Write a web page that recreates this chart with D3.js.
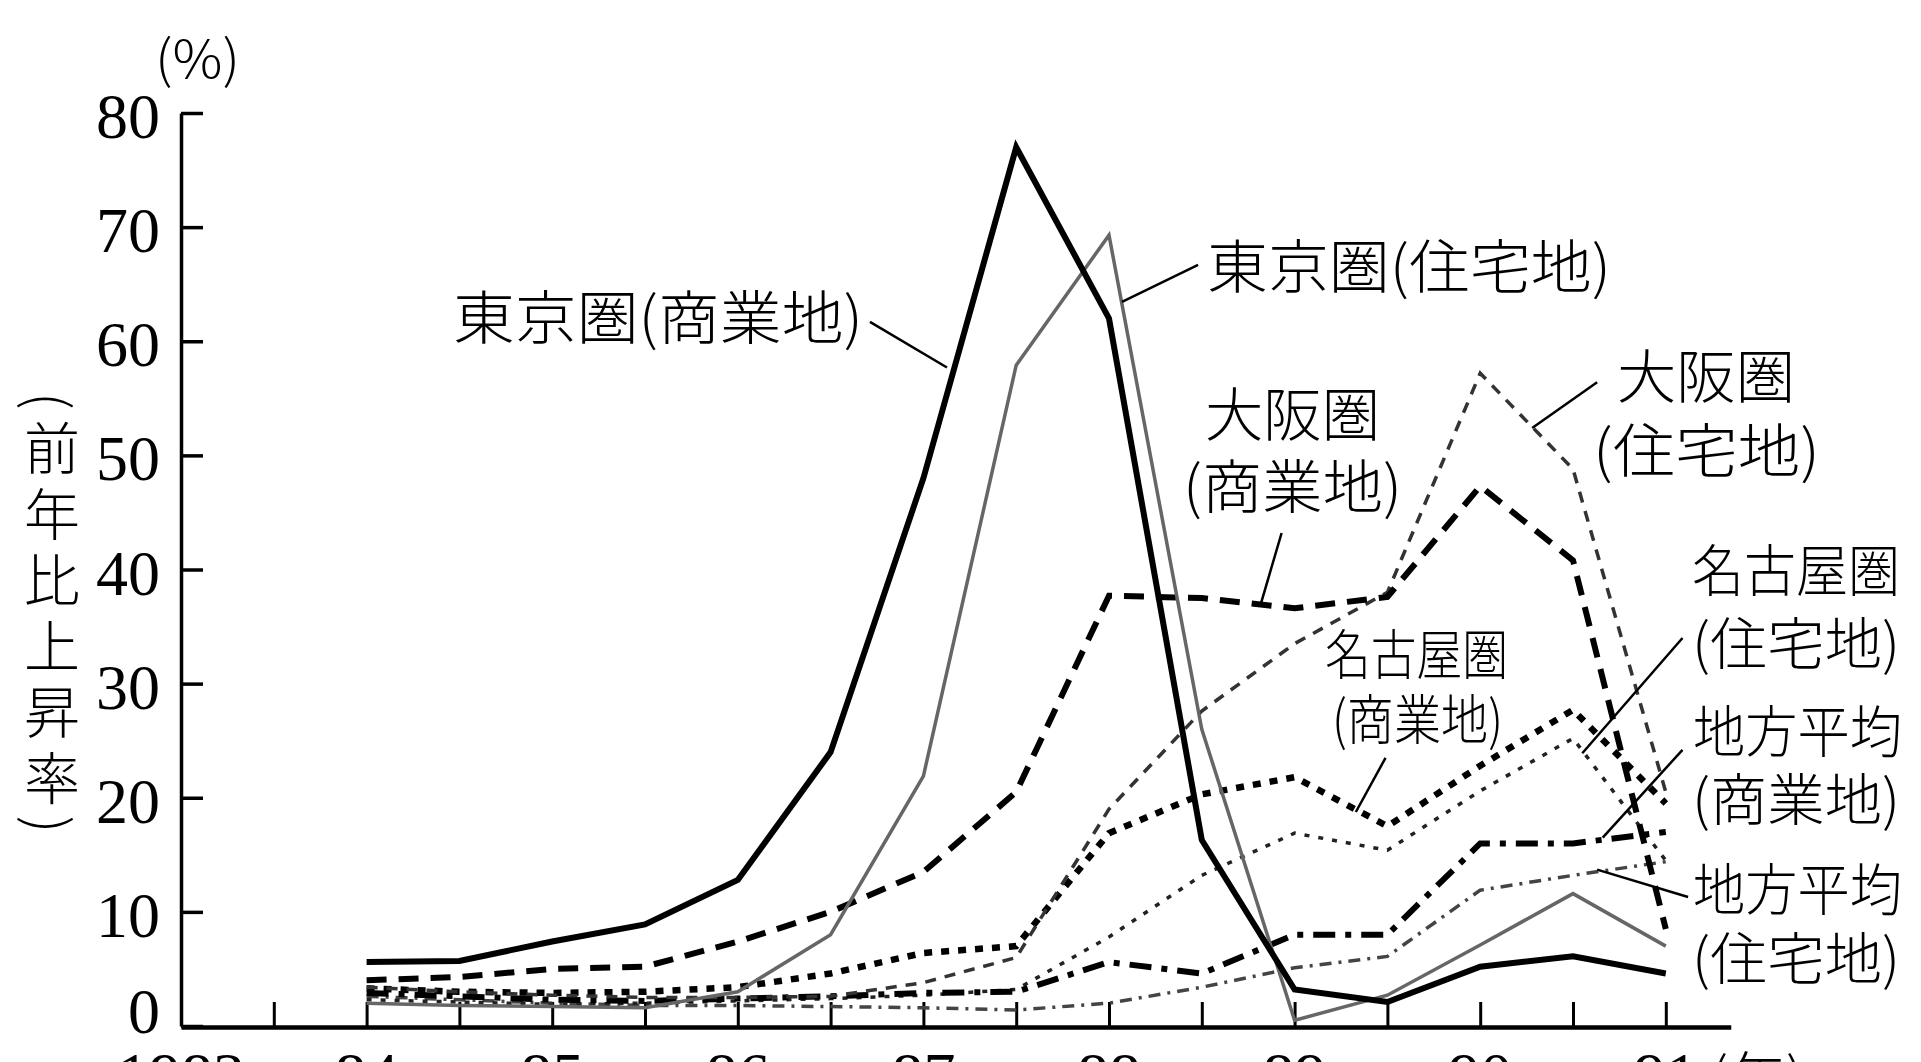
<!DOCTYPE html>
<html>
<head>
<meta charset="utf-8">
<script src="https://cdn.jsdelivr.net/npm/d3@7"></script>
<style>
  html, body { margin: 0; padding: 0; background: #fff; overflow: hidden; }
  svg { display: block; }
</style>
</head>
<body>
<div id="main"></div>
<script>
// half-year observations, 1984 .. 1991
var years = [1984, 1984.5, 1985, 1985.5, 1986, 1986.5, 1987, 1987.5,
             1988, 1988.5, 1989, 1989.5, 1990, 1990.5, 1991];

var tokyoCom  = [5.6, 5.7, 7.4, 8.9, 12.8, 24.0, 48.0, 77.0, 62.0, 16.3, 3.2, 2.1, 5.2, 6.1, 4.6];
var tokyoRes  = [2.0, 1.8, 1.7, 1.6, 3.0, 8.0, 21.9, 57.9, 69.3, 26.0, 0.5, 2.7, 7.1, 11.6, 7.0];
var osakaCom  = [4.0, 4.3, 5.0, 5.2, 7.4, 10.0, 13.5, 20.5, 37.7, 37.5, 36.6, 37.6, 47.3, 40.8, 8.5];
var osakaRes  = [3.4, 3.0, 2.7, 2.5, 2.5, 2.6, 3.8, 6.0, 19.0, 27.6, 33.5, 38.0, 57.2, 48.8, 20.5];
var nagoyaCom = [3.3, 3.0, 2.9, 3.0, 3.4, 4.6, 6.4, 7.0, 16.9, 20.3, 21.8, 17.5, 22.8, 27.7, 19.5];
var nagoyaRes = [2.3, 2.1, 1.9, 2.0, 2.2, 2.4, 2.7, 3.2, 7.8, 13.2, 16.9, 15.4, 20.6, 25.2, 14.5];
var localCom  = [2.9, 2.6, 2.3, 2.2, 2.4, 2.6, 2.9, 3.0, 5.6, 4.6, 8.0, 8.0, 16.0, 16.0, 17.0];
var localRes  = [2.6, 2.3, 2.0, 1.8, 1.8, 1.7, 1.6, 1.4, 2.0, 3.4, 5.1, 6.1, 11.9, 13.2, 14.4];

var yTicks = [0, 10, 20, 30, 40, 50, 60, 70, 80];
var xLabelYears = [1983, 1984, 1985, 1986, 1987, 1988, 1989, 1990, 1991];
var xLabels = ["1983", "84", "85", "86", "87", "88", "89", "90", "91"];
var xTickYears = [1983.5, 1984, 1984.5, 1985, 1985.5, 1986, 1986.5, 1987, 1987.5,
                  1988, 1988.5, 1989, 1989.5, 1990, 1990.5, 1991];

var width = 1921, height = 1062;

var svg = d3.select("#main")
  .append("svg")
    .attr("width", width)
    .attr("height", height);

var x = d3.scaleLinear()
  .domain([1983, 1991.35])
  .range([181, 181 + 8.35 * 185.6]);

var y = d3.scaleLinear()
  .domain([0, 80])
  .range([1026, 113]);

var serif = "'Liberation Serif', 'DejaVu Serif', serif";
var jp = "'Noto Sans CJK JP', 'Noto Sans CJK SC', sans-serif";

// axes
var xAxis = svg.append("g")
  .attr("transform", "translate(0," + (y(0) + 1) + ")")
  .call(d3.axisBottom(x).tickValues(xTickYears).tickSizeInner(-25).tickSizeOuter(0).tickFormat(""));
xAxis.select(".domain").attr("stroke", "#000").attr("stroke-width", 4.5);
xAxis.selectAll(".tick line").attr("stroke", "#000").attr("stroke-width", 3);

var yAxis = svg.append("g")
  .attr("transform", "translate(" + x(1983) + ",0)")
  .call(d3.axisLeft(y).tickValues(yTicks).tickSizeInner(-22).tickSizeOuter(0).tickFormat(""));
yAxis.select(".domain").attr("stroke", "#000").attr("stroke-width", 3.5);
yAxis.selectAll(".tick line").attr("stroke", "#000").attr("stroke-width", 3.5);

// y tick labels (the zero sits a little higher than the rest)
svg.append("g").selectAll("text")
  .data(yTicks)
  .enter().append("text")
    .attr("x", 160)
    .attr("y", function(d) { return y(d) + (d === 0 ? 7 : 25); })
    .attr("text-anchor", "end")
    .style("font-family", serif)
    .style("font-size", "64px")
    .text(function(d) { return d; });

// x labels, cut by the bottom edge as in the original
svg.append("g").selectAll("text")
  .data(xLabelYears)
  .enter().append("text")
    .attr("x", function(d) { return x(d); })
    .attr("y", 1097)
    .attr("text-anchor", "middle")
    .style("font-family", serif)
    .style("font-size", "64px")
    .text(function(d, i) { return xLabels[i]; });

svg.append("text")
  .attr("x", 1757).attr("y", 1100)
  .attr("text-anchor", "middle")
  .style("font-family", jp).style("font-size", "58px").style("font-weight", 300)
  .text("(年)");

svg.append("text")
  .attr("x", 155).attr("y", 78)
  .attr("textLength", 85).attr("lengthAdjust", "spacingAndGlyphs")
  .style("font-family", jp).style("font-size", "52px").style("font-weight", 300)
  .text("(%)");

svg.append("text")
  .attr("x", 52).attr("y", 392)
  .style("writing-mode", "vertical-rl")
  .style("font-family", jp).style("font-size", "56px").style("font-weight", 300)
  .style("letter-spacing", "10px")
  .text("(前年比上昇率)");

// series
var series = [
  {values: localRes,  color: "#444", w: 3.5, dash: "12,7,3,7"},
  {values: nagoyaRes, color: "#222", w: 3.5, dash: "5,9"},
  {values: localCom,  color: "#000", w: 6,   dash: "22,10,6,10"},
  {values: nagoyaCom, color: "#000", w: 6.5, dash: "8,9"},
  {values: osakaRes,  color: "#333", w: 3.5, dash: "11,9"},
  {values: osakaCom,  color: "#000", w: 6,   dash: "20,12"},
  {values: tokyoRes,  color: "#666", w: 3.5, dash: null},
  {values: tokyoCom,  color: "#000", w: 6,   dash: null}
];

var line = d3.line()
  .x(function(d) { return x(d[0]); })
  .y(function(d) { return y(d[1]); });

svg.append("g").selectAll("path")
  .data(series)
  .enter().append("path")
    .attr("d", function(s) { return line(years.map(function(yr, i) { return [yr, s.values[i]]; })); })
    .attr("fill", "none")
    .attr("stroke", function(s) { return s.color; })
    .attr("stroke-width", function(s) { return s.w; })
    .attr("stroke-dasharray", function(s) { return s.dash; })
    .attr("stroke-linejoin", "miter");

// leader lines from the labels to their series, in data units
var leaders = [
  [[1986.712, 61.7], [1987.127, 57.7]],
  [[1988.48, 66.7], [1988.07, 63.45]],
  [[1988.93, 43.2], [1988.82, 37.1]],
  [[1990.63, 56.4], [1990.28, 52.4]],
  [[1989.49, 23.5], [1989.33, 18.75]],
  [[1991.09, 34.0], [1990.55, 23.9]],
  [[1991.09, 24.2], [1990.66, 16.5]],
  [[1991.12, 11.3], [1990.63, 13.7]]
];

svg.append("g").selectAll("path")
  .data(leaders)
  .enter().append("path")
    .attr("d", line)
    .attr("fill", "none")
    .attr("stroke", "#000")
    .attr("stroke-width", 2.5);

// labels
var labels = [
  {t: "東京圏(商業地)", x: 453,  y: 339, fs: 58, w: 410},
  {t: "東京圏(住宅地)", x: 1207, y: 288, fs: 58, w: 404},
  {t: "大阪圏",         x: 1205, y: 436, fs: 58, w: 175},
  {t: "(商業地)",       x: 1183, y: 508, fs: 58, w: 219},
  {t: "大阪圏",         x: 1617, y: 398, fs: 58, w: 178},
  {t: "(住宅地)",       x: 1593, y: 472, fs: 58, w: 227},
  {t: "名古屋圏",       x: 1692, y: 591, fs: 56, w: 208},
  {t: "(住宅地)",       x: 1692, y: 664, fs: 56, w: 208},
  {t: "地方平均",       x: 1693, y: 752, fs: 56, w: 209},
  {t: "(商業地)",       x: 1692, y: 820, fs: 56, w: 208},
  {t: "地方平均",       x: 1693, y: 910, fs: 56, w: 209},
  {t: "(住宅地)",       x: 1692, y: 979, fs: 56, w: 208},
  {t: "名古屋圏",       x: 1325, y: 675, fs: 54, w: 183},
  {t: "(商業地)",       x: 1332, y: 740, fs: 54, w: 171}
];

svg.append("g").selectAll("text")
  .data(labels)
  .enter().append("text")
    .attr("x", function(d) { return d.x; })
    .attr("y", function(d) { return d.y; })
    .attr("textLength", function(d) { return d.w; })
    .attr("lengthAdjust", "spacingAndGlyphs")
    .style("font-family", jp)
    .style("font-weight", 300)
    .style("font-size", function(d) { return d.fs + "px"; })
    .text(function(d) { return d.t; });
</script>
</body>
</html>
